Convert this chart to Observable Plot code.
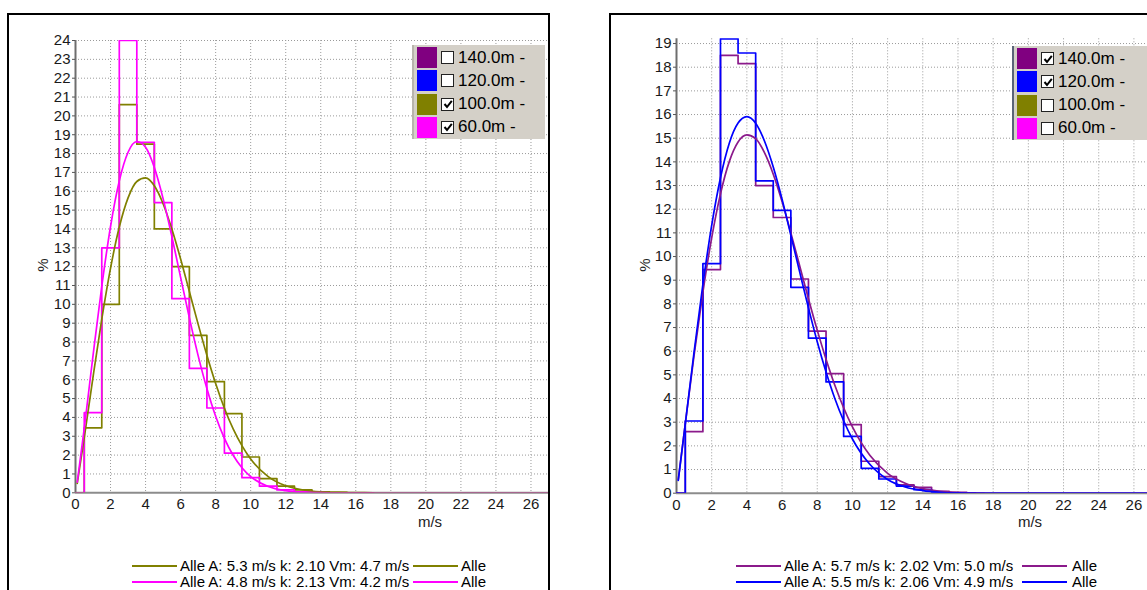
<!DOCTYPE html>
<html>
<head>
<meta charset="utf-8">
<script src="https://cdn.jsdelivr.net/npm/d3@7"></script>
<script src="https://cdn.jsdelivr.net/npm/@observablehq/plot@0.6"></script>
<style>
html, body { margin:0; padding:0; background:#fff; overflow:hidden; width:1147px; height:590px;
  font-family:"Liberation Sans", Arial, sans-serif; }
.frame { position:absolute; border:2px solid #000; box-sizing:border-box; z-index:5; pointer-events:none; }
.chart { position:absolute; top:15px; z-index:1; }
svg.chart text { font-size:15px; fill:#1a1a1a; }
.legbox { position:absolute; background:#d4d0c8; z-index:3; }
.row { position:absolute; left:0; height:21px; display:flex; align-items:center; }
.sw { width:20px; height:21px; margin-left:3px; }
.cb { width:11px; height:11px; border:1px solid #222; background:#fff; margin-left:4px; display:flex; align-items:center; justify-content:center; }
.lbl { font-size:17px; margin-left:4px; color:#000; white-space:nowrap; }
.t { position:absolute; font-size:15px; color:#000; white-space:nowrap; transform:translateY(-50%); line-height:16px; z-index:2; }
.seg { position:absolute; height:2px; z-index:2; }
.ax { position:absolute; font-size:15px; color:#222; z-index:2; white-space:nowrap; }
</style>
</head>
<body>
<script>
// ---------------- data ----------------
const heights = ["140.0m -", "120.0m -", "100.0m -", "60.0m -"];
const heightColors = ["#800080", "#0000ff", "#808000", "#ff00ff"];
const checkedLeft = [false, false, true, true];
const checkedRight = [true, true, false, false];

const xTicks = [0,2,4,6,8,10,12,14,16,18,20,22,24,26];
const yTicksLeft = [0,1,2,3,4,5,6,7,8,9,10,11,12,13,14,15,16,17,18,19,20,21,22,23,24];
const yTicksRight = [0,1,2,3,4,5,6,7,8,9,10,11,12,13,14,15,16,17,18,19];

// histogram bins (1 m/s wide, centred on integer speeds)
const binCenters = [1,2,3,4,5,6,7,8,9,10,11,12,13,14,15,16,17];
const hist100 = [3.45,10.0,20.6,18.5,14.0,12.0,8.35,5.9,4.2,1.9,0.75,0.35,0.15,0.05,0.02,0,0];
const hist60  = [4.25,13.0,24.0,18.6,15.4,10.3,6.6,4.5,2.1,0.8,0.35,0.15,0.05,0,0,0,0];
const hist140 = [2.6,9.45,18.5,18.15,13.0,11.65,9.05,6.85,5.05,2.9,1.35,0.7,0.35,0.25,0.08,0.04,0.02];
const hist120 = [3.05,9.7,19.2,18.6,13.2,11.95,8.7,6.55,4.7,2.4,1.05,0.6,0.3,0.15,0.05,0.02,0];

// Weibull fit curves
const curveX = [0.1,0.5,1,1.5,2,2.5,3,3.5,4,4.5,5,5.5,6,6.5,7,7.5,8,8.5,9,9.5,10,11,12,13,14,15,16,17];
const fit100 = [0.50,2.93,6.14,9.21,11.92,14.10,15.65,16.52,16.71,16.29,15.34,14.00,12.41,10.68,8.95,7.30,5.80,4.49,3.39,2.50,1.79,0.86,0.37,0.15,0.05,0.02,0.01,0];
const fit60  = [0.56,3.42,7.28,10.96,14.13,16.55,18.07,18.64,18.33,17.26,15.61,13.60,11.43,9.28,7.28,5.53,4.06,2.89,1.99,1.33,0.86,0.33,0.11,0.03,0.01,0,0,0];
const fit140 = [0.57,2.94,5.83,8.49,10.79,12.65,14.01,14.84,15.14,14.98,14.39,13.48,12.32,11.00,9.61,8.22,6.89,5.66,4.56,3.61,2.80,1.59,0.84,0.42,0.19,0.08,0.03,0.01];
const fit120 = [0.54,2.93,5.97,8.82,11.32,13.33,14.79,15.64,15.91,15.63,14.88,13.78,12.42,10.90,9.35,7.83,6.40,5.12,4.00,3.06,2.29,1.21,0.58,0.26,0.11,0.04,0.01,0];

const legendLeft = ["Alle A: 5.3 m/s k: 2.10 Vm: 4.7 m/s", "Alle A: 4.8 m/s k: 2.13 Vm: 4.2 m/s"];
const legendRight = ["Alle A: 5.7 m/s k: 2.02 Vm: 5.0 m/s", "Alle A: 5.5 m/s k: 2.06 Vm: 4.9 m/s"];
const legendTail = "Alle";
const xMax = 27;

// ---------------- helpers ----------------
function stepTable(values) {
  const pts = [{x: 0, y: 0}];
  binCenters.forEach((c, i) => pts.push({x: c - 0.5, y: values[i]}));
  pts.push({x: binCenters[binCenters.length - 1] + 0.5, y: 0});
  pts.push({x: xMax, y: 0});
  return pts;
}
function curveTable(values) {
  return curveX.map((x, i) => ({x, y: values[i]}));
}

function panel({left, width, mLeft, yMax, yTicks, marginTop, marginBottom, hists, fits}) {
  const H = 527;
  const marks = [
    Plot.gridX(xTicks.slice(1), {stroke:"#9a9a9a", strokeOpacity:1, strokeDasharray:"1,2", strokeWidth:1}),
    Plot.gridY(yTicks.slice(1), {stroke:"#9a9a9a", strokeOpacity:1, strokeDasharray:"1,2", strokeWidth:1}),
    Plot.ruleY([0], {stroke:"#8c8c8c", strokeWidth:2}),
    Plot.ruleX([0], {stroke:"#6e6e6e", strokeWidth:2}),
    Plot.axisY(yTicks, {tickSize:3, tickPadding:2, fontSize:15, fill:"#1a1a1a", stroke:"#555", label:null}),
    Plot.axisX(xTicks, {tickSize:0, tickPadding:6, fontSize:15, fill:"#1a1a1a", label:null})
  ];
  hists.forEach(h => marks.push(Plot.line(stepTable(h.values), {x:"x", y:"y", curve:"step-after", stroke:h.color, strokeWidth:1.7, clip:true})));
  fits.forEach(f => marks.push(Plot.line(curveTable(f.values), {x:"x", y:"y", curve:"monotone-x", stroke:f.color, strokeWidth:1.7, clip:true})));
  const svg = Plot.plot({
    width, height: H,
    marginLeft: mLeft, marginRight: 0, marginTop, marginBottom,
    x: {domain:[0, xMax], axis:null},
    y: {domain:[0, yMax], axis:null},
    style: {background:"transparent", fontFamily:'"Liberation Sans", Arial, sans-serif', fontSize:"15px", color:"#1a1a1a", overflow:"visible"},
    marks
  });
  svg.classList.add("chart");
  svg.style.left = left + "px";
  svg.style.top = "15px";
  svg.style.position = "absolute";
  svg.style.maxWidth = "none";
  document.body.appendChild(svg);
}

function el(cls, css, html) {
  const d = document.createElement("div");
  d.className = cls;
  Object.assign(d.style, css);
  if (html != null) d.innerHTML = html;
  document.body.appendChild(d);
  return d;
}

function legendBox(left, top, width, checked, edge) {
  const box = el("legbox", {left: left + "px", top: top + "px", width: width + "px", height: "94px", borderLeft: "2px solid " + edge});
  heights.forEach((name, i) => {
    const r = document.createElement("div");
    r.className = "row";
    r.style.top = (2 + i * 23.3) + "px";
    const check = checked[i] ? '<svg width="10" height="10" viewBox="0 0 10 10"><path d="M1.5 5 L4 8 L8.8 1.8" fill="none" stroke="#000" stroke-width="2"/></svg>' : "";
    r.innerHTML = `<div class="sw" style="background:${heightColors[i]}"></div><div class="cb">${check}</div><div class="lbl">${name}</div>`;
    box.appendChild(r);
  });
}

// ---------------- left panel ----------------
panel({left: 9, width: 539, mLeft: 66, yMax: 24, yTicks: yTicksLeft, marginTop: 25, marginBottom: 49.7,
  hists: [{values: hist100, color: "#808000"}, {values: hist60, color: "#ff00ff"}],
  fits: [{values: fit100, color: "#808000"}, {values: fit60, color: "#ff00ff"}]});

// ---------------- right panel ----------------
panel({left: 611, width: 540, mLeft: 65, yMax: 19.2, yTicks: yTicksRight, marginTop: 23.3, marginBottom: 49.3,
  hists: [{values: hist140, color: "#8b1a8b"}, {values: hist120, color: "#0000ff"}],
  fits: [{values: fit140, color: "#8b1a8b"}, {values: fit120, color: "#0000ff"}]});

// frames
el("frame", {left: "7px", top: "13px", width: "543px", height: "600px"});
el("frame", {left: "609px", top: "13px", width: "600px", height: "600px"});

// legend boxes
legendBox(412, 45, 131, checkedLeft, "#b8b4ac");
legendBox(1012, 46, 140, checkedRight, "#5a6478");

// axis titles
el("ax", {left: "430px", top: "521px", transform: "translate(-50%,-50%)"}, "m/s");
el("ax", {left: "1030px", top: "521px", transform: "translate(-50%,-50%)"}, "m/s");
el("ax", {left: "42px", top: "265px", transform: "translate(-50%,-50%) rotate(-90deg)"}, "%");
el("ax", {left: "644px", top: "265px", transform: "translate(-50%,-50%) rotate(-90deg)"}, "%");

// bottom legends
function bottomLegend(x0, texts, colors, x1, x2) {
  texts.forEach((t, i) => {
    const y = 566 + i * 16;
    el("seg", {left: x0 + "px", top: (y - 1) + "px", width: "45px", background: colors[i]});
    el("t", {left: (x0 + 48) + "px", top: y + "px"}, t);
    el("seg", {left: x1 + "px", top: (y - 1) + "px", width: "45px", background: colors[i]});
    el("t", {left: x2 + "px", top: y + "px"}, legendTail);
  });
}
bottomLegend(132, legendLeft, ["#808000", "#ff00ff"], 413, 461);
bottomLegend(736, legendRight, ["#8b1a8b", "#0000ff"], 1022, 1072);
</script>
</body>
</html>
